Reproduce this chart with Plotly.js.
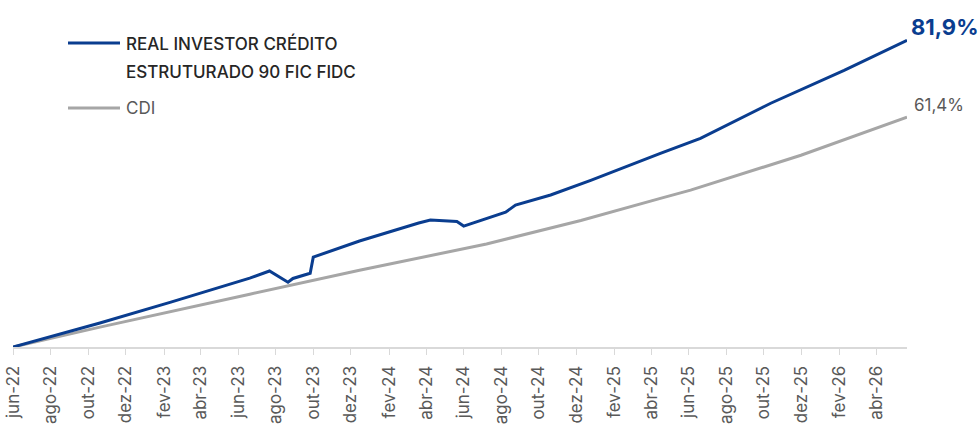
<!DOCTYPE html>
<html>
<head>
<meta charset="utf-8">
<script src="https://cdn.plot.ly/plotly-3.0.1.min.js"></script>
<style>html,body{margin:0;padding:0;background:#fff;}#chart{width:979px;height:426px;}</style>
</head>
<body>
<div id="chart"></div>
<script>
// Fund (blue) series: dates and cumulative return (%)
const fundDates = ["2022-06-01","2022-10-20","2023-02-12","2023-06-20","2023-07-22","2023-08-21","2023-08-29","2023-09-26","2023-10-01","2023-12-15","2024-03-20","2024-04-08","2024-05-21","2024-06-01","2024-08-08","2024-08-24","2024-10-20","2024-12-24","2025-04-16","2025-06-20","2025-10-12","2026-02-08","2026-05-21"];
const fundValues = [0, 6.4, 12.0, 18.4, 20.3, 17.3, 18.3, 19.7, 24.0, 28.3, 33.1, 33.9, 33.5, 32.3, 36.0, 37.9, 40.6, 44.5, 51.7, 55.7, 65.1, 73.9, 81.9];

// CDI (gray) series
const cdiDates = ["2022-06-01","2022-10-20","2023-06-20","2023-12-15","2024-07-08","2024-12-08","2025-04-16","2025-06-04","2025-11-30","2026-05-21"];
const cdiValues = [0, 5.3, 14.1, 20.5, 27.5, 33.8, 39.7, 41.9, 51.2, 61.4];

// Axis ticks
const tickDates = ["2022-06-01","2022-08-01","2022-10-01","2022-12-01","2023-02-01","2023-04-01","2023-06-01","2023-08-01","2023-10-01","2023-12-01","2024-02-01","2024-04-01","2024-06-01","2024-08-01","2024-10-01","2024-12-01","2025-02-01","2025-04-01","2025-06-01","2025-08-01","2025-10-01","2025-12-01","2026-02-01","2026-04-01"];
const tickLabels = ["jun-22","ago-22","out-22","dez-22","fev-23","abr-23","jun-23","ago-23","out-23","dez-23","fev-24","abr-24","jun-24","ago-24","out-24","dez-24","fev-25","abr-25","jun-25","ago-25","out-25","dez-25","fev-26","abr-26"];

const fundNameLines = ["REAL INVESTOR CRÉDITO", "ESTRUTURADO 90 FIC FIDC"];
const cdiName = "CDI";
const fundLabel = "81,9%";
const cdiLabel = "61,4%";

const BLUE = "#0a3d8f";
const GRAY = "#a6a6a6";
const FONT = "Inter, Roboto, 'Noto Sans', sans-serif";

const traces = [
  {x: cdiDates, y: cdiValues, type: "scatter", mode: "lines", name: cdiName,
   line: {color: GRAY, width: 3}, showlegend: false, hoverinfo: "skip"},
  {x: fundDates, y: fundValues, type: "scatter", mode: "lines", name: fundNameLines.join(" "),
   line: {color: BLUE, width: 3}, showlegend: false, hoverinfo: "skip"}
];

const lastF = fundDates.length - 1;
const lastC = cdiDates.length - 1;
const py = p => (347 - p) / 337;

const layout = {
  width: 979, height: 426,
  margin: {l: 13, r: 72, t: 10, b: 79},
  paper_bgcolor: "#ffffff", plot_bgcolor: "#ffffff",
  font: {family: FONT, color: "#595959"},
  xaxis: {
    type: "date", range: ["2022-06-01", "2026-05-21"],
    tickvals: tickDates, ticktext: tickLabels, tickangle: -90,
    tickfont: {size: 17, color: "#595959", family: FONT},
    ticks: "outside", ticklen: 6, tickcolor: "#d9d9d9", tickwidth: 1,
    ticklabelstandoff: 4,
    showline: true, linecolor: "#d9d9d9", linewidth: 2,
    showgrid: false, zeroline: false, fixedrange: true
  },
  yaxis: {
    range: [0, 90], visible: false, showgrid: false, zeroline: false, fixedrange: true
  },
  shapes: [
    {type: "line", xref: "paper", yref: "paper", x0: 55/894, x1: 107/894,
     y0: py(43), y1: py(43), line: {color: BLUE, width: 3}},
    {type: "line", xref: "paper", yref: "paper", x0: 55/894, x1: 107/894,
     y0: py(108), y1: py(108), line: {color: GRAY, width: 3}}
  ],
  annotations: [
    {xref: "paper", yref: "paper", x: 111/894, y: py(43), xanchor: "left", yanchor: "middle",
     text: fundNameLines[0], showarrow: false, align: "left",
     font: {size: 17, color: "#262626", family: FONT, weight: 500}},
    {xref: "paper", yref: "paper", x: 111/894, y: py(72), xanchor: "left", yanchor: "middle",
     text: fundNameLines[1], showarrow: false, align: "left",
     font: {size: 17, color: "#262626", family: FONT, weight: 500}},
    {xref: "paper", yref: "paper", x: 111/894, y: py(108), xanchor: "left", yanchor: "middle",
     text: cdiName, showarrow: false, align: "left",
     font: {size: 17, color: "#595959", family: FONT}},
    {x: fundDates[lastF], y: fundValues[lastF], xanchor: "left", yanchor: "middle",
     xshift: 2, yshift: 13, text: "<b>" + fundLabel + "</b>", showarrow: false,
     font: {size: 22, color: BLUE, family: FONT}},
    {x: cdiDates[lastC], y: cdiValues[lastC], xanchor: "left", yanchor: "middle",
     xshift: 5, yshift: 12, text: cdiLabel, showarrow: false,
     font: {size: 17, color: "#595959", family: FONT}}
  ]
};

Plotly.newPlot("chart", traces, layout, {staticPlot: true, displayModeBar: false});
</script>
</body>
</html>
